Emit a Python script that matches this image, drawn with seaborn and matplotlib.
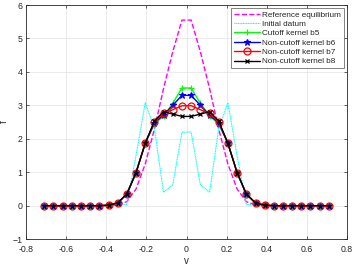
import matplotlib
matplotlib.use('Agg')
import matplotlib.pyplot as plt
import seaborn as sns

sns.set_theme(style='whitegrid')
plt.rcParams['font.family'] = ['Liberation Sans', 'DejaVu Sans']

# velocity grid (32 points, symmetric)
v = [-0.710, -0.664, -0.618, -0.573, -0.527, -0.481, -0.435, -0.389,
     -0.344, -0.298, -0.252, -0.206, -0.160, -0.115, -0.069, -0.023,
     0.023, 0.069, 0.115, 0.160, 0.206, 0.252, 0.298, 0.344,
     0.389, 0.435, 0.481, 0.527, 0.573, 0.618, 0.664, 0.710]

# right half values (v >= 0), mirrored below
ref_half = [5.55, 4.6, 3.5, 2.3, 1.25, 0.5, 0.12, 0.02, 0, 0, 0, 0, 0, 0, 0, 0]
init_half = [2.2, 0.62, 0.4, 2.3, 3.08, 1.5, 0.04, 0.02, 0, 0, 0, 0, 0, 0, 0, 0]
b5_half = [3.52, 3.06, 2.68, 2.45, 1.87, 0.99, 0.35, 0.08, 0.015, 0, 0, 0, 0, 0, 0, 0]
b6_half = [3.30, 3.00, 2.71, 2.48, 1.87, 0.99, 0.35, 0.08, 0.015, 0, 0, 0, 0, 0, 0, 0]
b7_half = [2.99, 2.87, 2.76, 2.51, 1.87, 0.99, 0.35, 0.08, 0.015, 0, 0, 0, 0, 0, 0, 0]
b8_half = [2.67, 2.74, 2.81, 2.54, 1.87, 0.99, 0.35, 0.08, 0.015, 0, 0, 0, 0, 0, 0, 0]


def full(half):
    return half[::-1] + half


fig = plt.figure(figsize=(3.54, 2.66), dpi=100)
ax = fig.add_axes([0.074, 0.101, 0.906, 0.880])

sns.lineplot(x=v, y=full(ref_half), ax=ax, color='#ff00ff', linestyle='--',
             linewidth=1.0, label='Reference equilibrium')
sns.lineplot(x=v, y=full(init_half), ax=ax, color='#00ffff',
             dashes=(1, 0.5), linewidth=0.8, label='Initial datum')
sns.lineplot(x=v, y=full(b5_half), ax=ax, color='#00ff00', linewidth=1.0,
             marker='+', markersize=5, mec='#00ff00', mew=0.9,
             label='Cutoff kernel b5')
sns.lineplot(x=v, y=full(b6_half), ax=ax, color='#0000ff', linewidth=1.0,
             marker='*', markersize=5, mec='#0000ff', mfc='#0000ff', mew=0.8,
             label='Non-cutoff kernel b6')
sns.lineplot(x=v, y=full(b7_half), ax=ax, color='#ff0000', linewidth=1.0,
             marker='o', markersize=5, mec='#ff0000', mfc='none', mew=0.9,
             label='Non-cutoff kernel b7')
sns.lineplot(x=v, y=full(b8_half), ax=ax, color='black', linewidth=1.0,
             marker='x', markersize=3, mec='black', mew=0.9,
             label='Non-cutoff kernel b8')

ax.set_xlim(-0.8, 0.8)
ax.set_ylim(-1, 6)
ax.set_xticks([-0.8, -0.6, -0.4, -0.2, 0, 0.2, 0.4, 0.6, 0.8])
ax.set_xticklabels(['-0.8', '-0.6', '-0.4', '-0.2', '0', '0.2', '0.4', '0.6', '0.8'])
ax.set_yticks(range(-1, 7))
ax.set_xlabel('v', fontsize=7, color='#262626')
ax.set_ylabel('f', fontsize=7, color='#262626')
ax.xaxis.set_label_coords(0.5, -0.072)
ax.yaxis.set_label_coords(-0.055, 0.5)
ax.tick_params(axis='both', labelsize=6.3, colors='#262626', direction='in',
               length=2.5, width=0.5, top=True, right=True,
               bottom=True, left=True)
ax.tick_params(axis='x', pad=4)
ax.tick_params(axis='y', pad=2.5)
ax.grid(True, color='#e6e6e6', linewidth=0.6)
for s in ax.spines.values():
    s.set_color('#262626')
    s.set_linewidth(0.6)

leg = ax.legend(loc='upper right', fontsize=5.9, frameon=True, fancybox=False,
                borderpad=0.3, labelspacing=0.2, handlelength=3.2,
                handletextpad=0.3, borderaxespad=0.4)
leg.get_frame().set_edgecolor('#262626')
leg.get_frame().set_linewidth(0.5)

fig.savefig('out.png', dpi=100)
